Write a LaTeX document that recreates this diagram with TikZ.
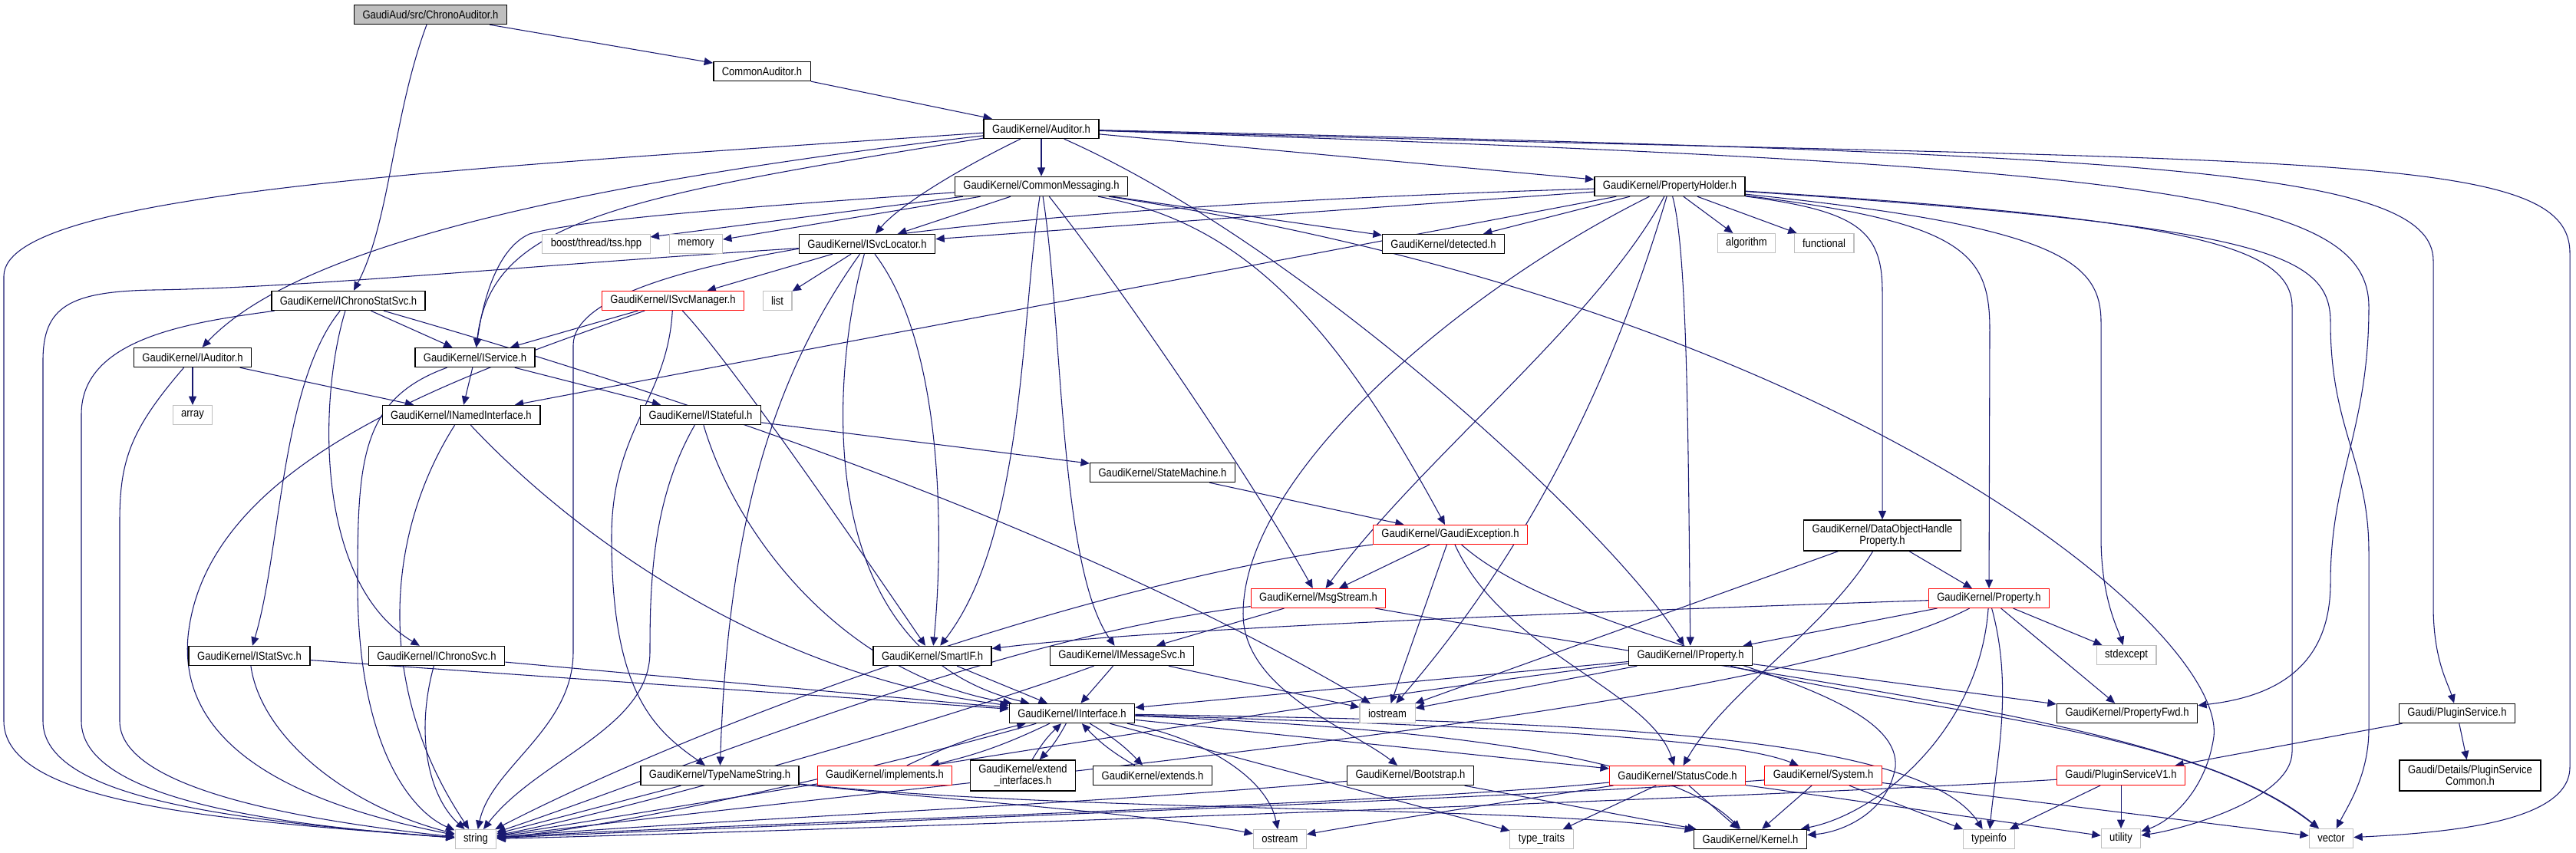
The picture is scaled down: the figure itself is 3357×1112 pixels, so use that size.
\documentclass[tikz,border=0pt]{standalone}
\usepackage{fontspec}
\usetikzlibrary{arrows.meta}
\newfontfamily\dxfont[FakeStretch=0.87]{Liberation Sans}
\definecolor{incblue}{RGB}{25,25,112}
\definecolor{sysgray}{RGB}{191,191,191}
\pgfdeclarelayer{edges}
\pgfsetlayers{edges,main}
\tikzset{
  hdr/.style={draw=black,line width=1.1pt,fill=white,inner xsep=8.25pt,inner ysep=0pt,
    minimum height=18.75pt,font=\dxfont\fontsize{11.25}{11.25}\selectfont},
  trunc/.style={hdr,draw=red,line width=0.8pt},
  syshdr/.style={hdr,draw=sysgray,line width=0.8pt},
  twoline/.style={align=center,minimum height=30pt},
  inc/.style={draw=incblue,line width=0.8pt,-{Triangle[length=8.5pt,width=7.5pt]}}
}
\begin{document}
\begin{tikzpicture}[x=0.75pt,y=0.75pt,yscale=-1,xscale=1]
\useasboundingbox (0,0) rectangle (3357,1112);

% Header boxes
\node[hdr,fill=sysgray] (root) at (561,19) {GaudiAud/src/ChronoAuditor.h};
\node[hdr] (cma) at (993,93) {CommonAuditor.h};
\node[hdr] (aud) at (1357,168) {GaudiKernel/Auditor.h};
\node[hdr] (cmsg) at (1357,243) {GaudiKernel/CommonMessaging.h};
\node[hdr] (ph) at (2176,243) {GaudiKernel/PropertyHolder.h};
\node[hdr] (ics) at (454,392) {GaudiKernel/IChronoStatSvc.h};
\node[hdr] (iaud) at (251,466) {GaudiKernel/IAuditor.h};
\node[hdr] (isv) at (619,466) {GaudiKernel/IService.h};
\node[syshdr] (arr) at (251,541) {array};
\node[hdr] (inm) at (601,541) {GaudiKernel/INamedInterface.h};
\node[hdr] (ist) at (913,541) {GaudiKernel/IStateful.h};
\node[hdr] (isl) at (1130,318) {GaudiKernel/ISvcLocator.h};
\node[trunc] (ism) at (877,392) {GaudiKernel/ISvcManager.h};
\node[syshdr] (lst) at (1013,392) {list};
\node[syshdr] (bst) at (777,318) {boost/thread/tss.hpp};
\node[syshdr] (mem) at (907,318) {memory};
\node[hdr] (det) at (1881,318) {GaudiKernel/detected.h};
\node[syshdr] (alg) at (2276,317) {algorithm};
\node[syshdr] (fun) at (2377,317) {functional};
\node[hdr] (stm) at (1515,616) {GaudiKernel/StateMachine.h};
\node[trunc] (gex) at (1890,697) {GaudiKernel/GaudiException.h};
\node[hdr,twoline] (doh) at (2453,698) {GaudiKernel/DataObjectHandle\\Property.h};
\node[trunc] (prp) at (2592,780) {GaudiKernel/Property.h};
\node[trunc] (msg) at (1718,780) {GaudiKernel/MsgStream.h};
\node[hdr] (iss) at (325,855) {GaudiKernel/IStatSvc.h};
\node[hdr] (icr) at (569,855) {GaudiKernel/IChronoSvc.h};
\node[hdr] (sif) at (1215,855) {GaudiKernel/SmartIF.h};
\node[hdr] (ims) at (1462,855) {GaudiKernel/IMessageSvc.h};
\node[hdr] (ipr) at (2203,855) {GaudiKernel/IProperty.h};
\node[syshdr] (sde) at (2771,854) {stdexcept};
\node[hdr] (iif) at (1397,930) {GaudiKernel/IInterface.h};
\node[syshdr] (ios) at (1808,930) {iostream};
\node[hdr] (pfw) at (2772,930) {GaudiKernel/PropertyFwd.h};
\node[hdr] (plg) at (3202,930) {Gaudi/PluginService.h};
\node[hdr] (tns) at (938,1011) {GaudiKernel/TypeNameString.h};
\node[trunc] (imp) at (1153,1011) {GaudiKernel/implements.h};
\node[hdr,twoline] (exi) at (1333,1011) {GaudiKernel/extend\\\_interfaces.h};
\node[hdr] (ext) at (1502,1011) {GaudiKernel/extends.h};
\node[hdr] (bts) at (1838,1011) {GaudiKernel/Bootstrap.h};
\node[trunc] (stc) at (2186,1011) {GaudiKernel/StatusCode.h};
\node[trunc] (sys) at (2376,1011) {GaudiKernel/System.h};
\node[trunc] (psv) at (2764,1011) {Gaudi/PluginServiceV1.h};
\node[hdr,twoline] (pcm) at (3219,1011) {Gaudi/Details/PluginService\\Common.h};
\node[syshdr] (str) at (620,1094) {string};
\node[syshdr] (ost) at (1668,1094) {ostream};
\node[syshdr] (ttr) at (2009,1094) {type\_traits};
\node[hdr] (krn) at (2281,1094) {GaudiKernel/Kernel.h};
\node[syshdr] (tin) at (2592,1094) {typeinfo};
\node[syshdr] (utl) at (2764,1093) {utility};
\node[syshdr] (vec) at (3038,1093) {vector};

\begin{pgfonlayer}{edges}
% ChronoAuditor, CommonAuditor
\draw[inc] (root) -- (cma);
\draw[inc] (root) .. controls (512,150) and (508,290) .. (ics);
\draw[inc] (cma) -- (aud);

% Auditor
\draw[inc] (aud) -- (cmsg);
\draw[inc] (aud) .. controls (1240,225) and (1170,270) .. (isl);
\draw[inc] (aud) .. controls (800,258) and (640,288) .. (isv);
\draw[inc] (aud) .. controls (700,245) and (380,330) .. (iaud);
\draw[inc] (aud) .. controls (600,220) and (5,250) .. (5,360) -- (5,940) .. controls (5,1050) and (300,1070) .. (str);
\draw[inc] (aud) -- (ph);
\draw[inc] (aud) .. controls (1700,320) and (2100,690) .. (ipr);
\draw[inc] (aud) .. controls (2800,215) and (3087,250) .. (3087,400) .. controls (3087,560) and (3037,620) .. (3037,760) .. controls (3037,880) and (2950,910) .. (pfw);
\draw[inc] (aud) .. controls (2800,200) and (3171,220) .. (3171,340) -- (3171,790) .. controls (3171,860) and (3190,890) .. (plg);
\draw[inc] (aud) .. controls (3000,215) and (3349,190) .. (3349,330) -- (3349,1000) .. controls (3349,1070) and (3200,1085) .. (vec);

% CommonMessaging
\draw[inc] (cmsg) -- (bst);
\draw[inc] (cmsg) -- (mem);
\draw[inc] (cmsg) -- (isl);
\draw[inc] (cmsg) .. controls (1000,268) and (760,285) .. (690,305) .. controls (645,325) and (628,400) .. (isv);
\draw[inc] (cmsg) .. controls (1330,420) and (1335,700) .. (sif);
\draw[inc] (cmsg) .. controls (1385,420) and (1380,740) .. (ims);
\draw[inc] (cmsg) .. controls (1480,400) and (1640,640) .. (msg);
\draw[inc] (cmsg) .. controls (1620,290) and (1740,420) .. (gex);
\draw[inc] (cmsg) -- (det);
\draw[inc] (cmsg) .. controls (2400,400) and (2900,820) .. (2885,960) .. controls (2875,1030) and (2830,1070) .. (utl);

% PropertyHolder
\draw[inc] (ph) -- (isl);
\draw[inc] (ph) -- (det);
\draw[inc] (ph) -- (inm);
\draw[inc] (ph) -- (alg);
\draw[inc] (ph) -- (fun);
\draw[inc] (ph) .. controls (2200,330) and (2200,600) .. (ipr);
\draw[inc] (ph) .. controls (2560,290) and (2593,330) .. (2593,430) -- (prp);
\draw[inc] (ph) .. controls (2420,275) and (2453,300) .. (2453,380) -- (doh);
\draw[inc] (ph) .. controls (2080,420) and (1850,600) .. (msg);
\draw[inc] (ph) .. controls (2100,500) and (1990,720) .. (ios);
\draw[inc] (ph) .. controls (1900,380) and (1620,620) .. (1620,800) .. controls (1620,900) and (1760,950) .. (bts);
\draw[inc] (ph) .. controls (2680,295) and (2738,340) .. (2738,420) -- (2738,700) .. controls (2738,780) and (2760,820) .. (sde);
\draw[inc] (ph) .. controls (2850,285) and (2987,320) .. (2987,400) -- (2987,980) .. controls (2987,1040) and (2850,1080) .. (utl);
\draw[inc] (ph) .. controls (2950,295) and (3037,330) .. (3037,420) .. controls (3037,560) and (3087,600) .. (3087,720) -- (3087,950) .. controls (3087,1010) and (3060,1050) .. (vec);
\draw[inc] (ph) .. controls (1300,270) and (747,330) .. (747,450) -- (747,850) .. controls (747,950) and (640,1000) .. (str);

% IChronoStatSvc
\draw[inc] (ics) -- (isv);
\draw[inc] (ics) .. controls (366,500) and (366,720) .. (iss);
\draw[inc] (ics) .. controls (415,520) and (410,760) .. (icr);
\draw[inc] (ics) .. controls (250,420) and (106,440) .. (106,540) -- (106,940) .. controls (106,1040) and (350,1075) .. (str);
\draw[inc] (ics) .. controls (900,520) and (1400,690) .. (ios);

% IAuditor, IService, INamedInterface
\draw[inc] (iaud) -- (arr);
\draw[inc] (iaud) -- (inm);
\draw[inc] (iaud) .. controls (170,560) and (156,600) .. (156,680) -- (156,940) .. controls (156,1030) and (400,1070) .. (str);
\draw[inc] (isv) -- (inm);
\draw[inc] (isv) -- (ist);
\draw[inc] (isv) .. controls (470,520) and (466,600) .. (466,760) .. controls (466,980) and (540,1060) .. (str);
\draw[inc] (inm) .. controls (750,700) and (1000,880) .. (iif);
\draw[inc] (inm) .. controls (500,700) and (490,900) .. (str);

% ISvcLocator, ISvcManager
\draw[inc] (isl) -- (ism);
\draw[inc] (isl) -- (lst);
\draw[inc] (isl) .. controls (1080,500) and (1060,850) .. (iif);
\draw[inc] (isl) .. controls (1230,450) and (1230,700) .. (sif);
\draw[inc] (isl) .. controls (1000,500) and (948,700) .. (tns);
\draw[inc] (isl) .. controls (700,345) and (400,375) .. (200,378) .. controls (90,380) and (56,400) .. (56,470) -- (56,940) .. controls (56,1040) and (300,1070) .. (str);
\draw[inc] (ism) -- (isv);
\draw[inc] (ism) .. controls (960,480) and (1150,760) .. (sif);
\draw[inc] (ism) .. controls (870,520) and (797,560) .. (797,700) .. controls (797,900) and (850,950) .. (tns);
\draw[inc] (ism) .. controls (600,490) and (268,600) .. (245,830) .. controls (230,1000) and (450,1060) .. (str);

% IStateful, StateMachine, GaudiException
\draw[inc] (ist) -- (stm);
\draw[inc] (ist) .. controls (960,700) and (1100,880) .. (iif);
\draw[inc] (ist) .. controls (850,650) and (847,760) .. (847,850) .. controls (847,950) and (700,990) .. (str);
\draw[inc] (stm) -- (gex);
\draw[inc] (gex) -- (msg);
\draw[inc] (gex) -- (ios);
\draw[inc] (gex) .. controls (1960,850) and (2150,900) .. (stc);
\draw[inc] (gex) .. controls (2050,840) and (2480,880) .. (2470,1000) .. controls (2460,1060) and (2400,1085) .. (krn);
\draw[inc] (gex) .. controls (1400,760) and (900,950) .. (str);

% MsgStream, IMessageSvc
\draw[inc] (msg) -- (ims);
\draw[inc] (msg) .. controls (1300,830) and (900,1000) .. (str);
\draw[inc] (msg) .. controls (2400,900) and (2850,940) .. (vec);
\draw[inc] (ims) -- (iif);
\draw[inc] (ims) -- (ios);
\draw[inc] (ims) .. controls (1200,950) and (800,1060) .. (str);

% IStatSvc, IChronoSvc, SmartIF
\draw[inc] (iss) -- (iif);
\draw[inc] (iss) .. controls (340,960) and (450,1050) .. (str);
\draw[inc] (icr) -- (iif);
\draw[inc] (icr) .. controls (540,960) and (560,1040) .. (str);
\draw[inc] (sif) -- (iif);

% IProperty
\draw[inc] (ipr) -- (iif);
\draw[inc] (ipr) -- (ios);
\draw[inc] (ipr) -- (pfw);
\draw[inc] (ipr) .. controls (1600,930) and (900,1050) .. (str);
\draw[inc] (ipr) .. controls (2500,930) and (2850,945) .. (vec);

% IInterface
\draw[inc] (iif) to[bend right=6] (imp);
\draw[inc] (imp) to[bend right=6] (iif);
\draw[inc] (iif) to[bend right=8] (exi);
\draw[inc] (exi) to[bend right=8] (iif);
\draw[inc] (iif) to[bend right=8] (ext);
\draw[inc] (ext) to[bend right=8] (iif);
\draw[inc] (iif) -- (stc);
\draw[inc] (iif) .. controls (1900,945) and (2250,960) .. (sys);
\draw[inc] (iif) .. controls (1900,950) and (2180,990) .. (krn);
\draw[inc] (iif) .. controls (1560,960) and (1650,1010) .. (ost);
\draw[inc] (iif) -- (ttr);
\draw[inc] (iif) .. controls (2000,940) and (2500,950) .. (tin);
\draw[inc] (iif) .. controls (1150,1000) and (800,1080) .. (str);

% TypeNameString, Bootstrap
\draw[inc] (tns) -- (str);
\draw[inc] (tns) .. controls (1200,1040) and (1500,1060) .. (ost);
\draw[inc] (tns) .. controls (1400,1060) and (2000,1050) .. (krn);
\draw[inc] (bts) .. controls (1400,1050) and (900,1070) .. (str);
\draw[inc] (bts) -- (krn);

% StatusCode, System
\draw[inc] (stc) .. controls (1800,1050) and (900,1075) .. (str);
\draw[inc] (stc) .. controls (2000,1040) and (1800,1070) .. (ost);
\draw[inc] (stc) -- (ttr);
\draw[inc] (stc) -- (krn);
\draw[inc] (stc) -- (utl);
\draw[inc] (sys) -- (krn);
\draw[inc] (sys) -- (tin);
\draw[inc] (sys) .. controls (2000,1040) and (900,1080) .. (str);
\draw[inc] (sys) -- (vec);

% DataObjectHandleProperty, Property
\draw[inc] (doh) -- (prp);
\draw[inc] (doh) .. controls (2380,820) and (2250,900) .. (stc);
\draw[inc] (doh) -- (ios);
\draw[inc] (prp) -- (ipr);
\draw[inc] (prp) .. controls (2000,800) and (1500,820) .. (sif);
\draw[inc] (prp) .. controls (2300,930) and (1300,1010) .. (str);
\draw[inc] (prp) .. controls (2580,950) and (2450,1060) .. (krn);
\draw[inc] (prp) .. controls (2625,900) and (2600,1000) .. (tin);
\draw[inc] (prp) -- (sde);
\draw[inc] (prp) -- (pfw);

% PluginService
\draw[inc] (plg) -- (psv);
\draw[inc] (plg) -- (pcm);
\draw[inc] (psv) -- (utl);
\draw[inc] (psv) -- (tin);
\draw[inc] (psv) .. controls (2300,1040) and (1000,1085) .. (str);
\end{pgfonlayer}

\end{tikzpicture}
\end{document}
